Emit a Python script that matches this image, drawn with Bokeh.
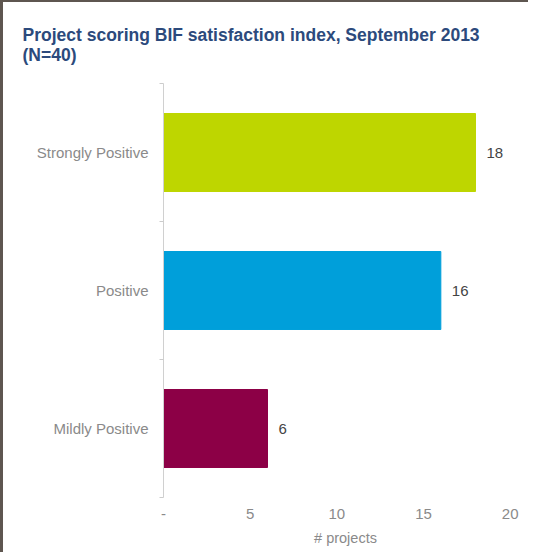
from bokeh.plotting import figure
from bokeh.models import ColumnDataSource, FixedTicker, Range1d, Title
from bokeh.embed import file_html
from bokeh.resources import INLINE
from bokeh.core.properties import value

categories = ["Mildly Positive", "Positive", "Strongly Positive"]
counts = [6, 16, 18]
colors = ["#8c0046", "#009fda", "#bed600"]
x_ticks = [0, 5, 10, 15, 20]
x_tick_labels = {0: "-", 5: "5", 10: "10", 15: "15", 20: "20"}
title_lines = ["Project scoring BIF satisfaction index, September 2013", "(N=40)"]

positions = [i + 0.5 for i in range(len(categories))]
source = ColumnDataSource(dict(
    y=positions, count=counts, color=colors,
    label=[str(c) for c in counts],
))

p = figure(width=528, height=552, output_backend="svg", toolbar_location=None,
           x_range=Range1d(0, 21), y_range=Range1d(0, 3),
           min_border_left=160, min_border_right=4, min_border_top=81,
           min_border_bottom=57)
p.title = Title(text="\n".join(title_lines),
                text_font="Liberation Sans", text_font_size="17.5px",
                text_font_style="bold", text_color="#2c4a7c", align="left",
                text_line_height=1.0, offset=-141, standoff=38)

p.hbar(y="y", right="count", left=0, height=0.565, color="color", source=source)
p.text(x="count", y="y", text="label", source=source, x_offset=11,
       text_baseline="middle", text_align="left", text_color="#444444",
       text_font=value("Liberation Sans"), text_font_size="15px")

p.background_fill_color = "white"
p.border_fill_color = "white"
p.outline_line_color = None
p.xgrid.visible = False
p.ygrid.visible = False

ya = p.yaxis[0]
ya.ticker = FixedTicker(ticks=positions, minor_ticks=[0, 1, 2, 3])
ya.major_label_overrides = {pos: c for pos, c in zip(positions, categories)}
ya.major_tick_line_color = None
ya.minor_tick_out = 4
ya.minor_tick_in = 0
ya.minor_tick_line_color = "#cccccc"
ya.axis_line_color = "#d0d0d0"
ya.major_label_standoff = 9
ya.major_label_text_color = "#8a8a8a"
ya.major_label_text_font = "Liberation Sans"
ya.major_label_text_font_size = "15px"

xa = p.xaxis[0]
xa.ticker = FixedTicker(ticks=x_ticks)
xa.major_label_overrides = x_tick_labels
xa.axis_line_color = None
xa.major_tick_line_color = None
xa.minor_tick_line_color = None
xa.major_label_standoff = 5
xa.major_label_text_color = "#8a8a8a"
xa.major_label_text_font = "Liberation Sans"
xa.major_label_text_font_size = "15px"
xa.axis_label = "# projects"
xa.axis_label_standoff = 8
xa.axis_label_text_color = "#8a8a8a"
xa.axis_label_text_font = "Liberation Sans"
xa.axis_label_text_font_size = "14.5px"
xa.axis_label_text_font_style = "normal"

p.styles = {"border-left": "3px solid #5e5650", "border-top": "2px solid #5e5650"}

open("out.html", "w").write(file_html(p, INLINE))
